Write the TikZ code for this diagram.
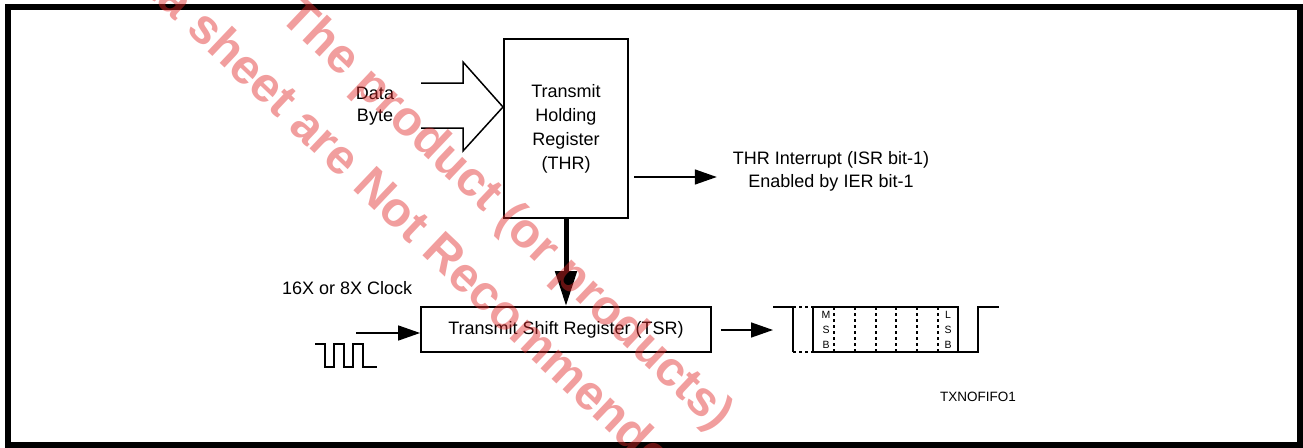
\documentclass[tikz,border=0pt]{standalone}
\usepackage{fontspec}
\setmainfont{Liberation Sans}
\usetikzlibrary{arrows.meta}
\definecolor{wm}{RGB}{225,40,40}
\begin{document}
\begin{tikzpicture}[x=1pt,y=-1pt,
  box/.style={draw,line width=1.8pt,inner sep=0pt,align=center,font=\fontsize{18}{24}\selectfont},
  lbl/.style={inner sep=0pt,align=center,font=\fontsize{18}{22.5}\selectfont},
  thin/.style={line width=1.5pt},
  arr/.style={thin,-{Triangle[length=22pt,width=15pt]}},
  bit/.style={inner sep=0pt,align=center,font=\fontsize{10.5}{15}\selectfont},
  wmtext/.style={inner sep=0pt,text=wm,text opacity=0.45,rotate=-43.5,anchor=mid west,font=\fontsize{49}{60}\selectfont\bfseries}]
\useasboundingbox (0,0) rectangle (1303,447);
\draw[line width=6pt] (8,7) rectangle (1300,445);
% registers
\node[box,minimum width=124pt,minimum height=179pt] (thr) at (566,128.5) {Transmit\\Holding\\Register\\(THR)};
\node[box,minimum width=290pt,minimum height=45pt] (tsr) at (566,329.5) {Transmit Shift Register (TSR)};
% data byte input
\node[lbl] (data) at (375,106) {Data\\Byte};
\coordinate (dtip) at (503,107);
\draw[thin,line join=miter] (421,83) -- (463,83) -- (463,62) -- (dtip) -- (463,151) -- (463,128) -- (421,128);
% interrupt
\node[lbl] (int) at (831,171.5) {THR Interrupt (ISR bit-1)\\Enabled by IER bit-1};
\coordinate (thrOut) at (634,177);
\draw[arr,shorten >=16pt] (thrOut) -- (thrOut -| int.west);
% THR -> TSR
\draw[line width=5pt,-{Triangle[length=35pt,width=21pt]}] (thr.south) -- (tsr.north);
% clock
\node[lbl,anchor=west] (clk) at (282,288) {16X or 8X Clock};
\coordinate (clkIn) at (356,333);
\draw[arr] (clkIn) -- (clkIn -| tsr.west);
\draw[thin] (315,344) -- (325,344) -- (325,367) -- (334,367) -- (334,344) -- (344,344) -- (344,367)
  -- (353,367) -- (353,344) -- (363,344) -- (363,367) -- (377,367);
% TSR -> serial frame
\coordinate (frameL) at (773,330);
\draw[arr,shorten <=9pt] (tsr.east |- frameL) -- (frameL);
\draw[thin] (773,307) -- (793,307) -- (793,352);
\draw[thin,dashed] (793,307) -- (813,307) (793,352) -- (813,352);
\draw[thin] (813,307) rectangle (958,352);
\foreach \x in {834,855,876,896,917,938} \draw[thin,dashed] (\x,307) -- (\x,352);
\draw[thin] (958,352) -- (978,352) -- (978,307) -- (999,307);
\node[bit] (msb) at (826,330) {M\\S\\B};
\node[bit] (lsb) at (948,330) {L\\S\\B};
\node[inner sep=0pt,anchor=west,font=\fontsize{13.5}{16}\selectfont] (fig) at (940,397) {TXNOFIFO1};
% watermark
\begin{scope}
\clip (0,0) rectangle (1303,447);
\node[wmtext] (wm1) at (280.5,16) {The product (or products)};
\node[wmtext] (wm2) at (104,-50) {data sheet are Not Recommended};
\end{scope}
\end{tikzpicture}
\end{document}
